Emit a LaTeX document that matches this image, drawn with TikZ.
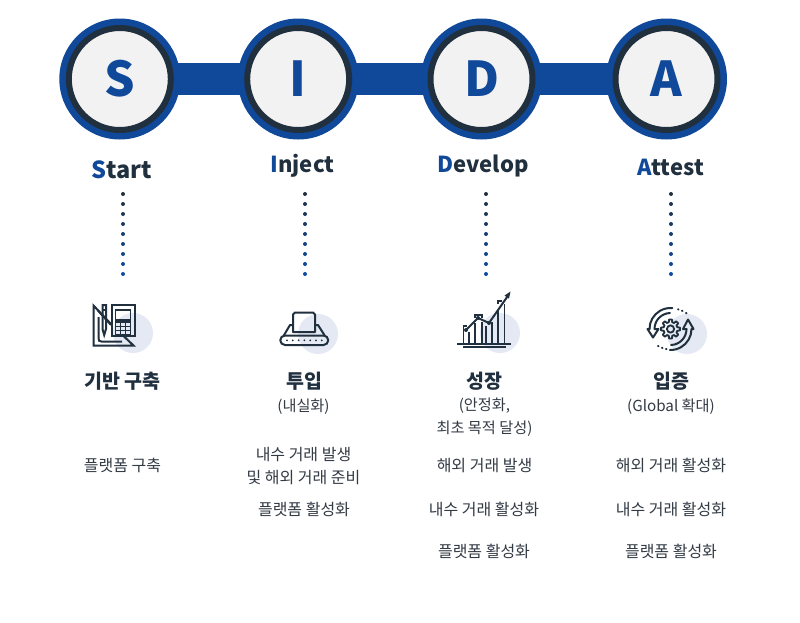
\documentclass[tikz,border=0pt]{standalone}
\usepackage{fontspec}
\setmainfont{Noto Sans CJK KR}
\definecolor{navy}{HTML}{10489A}
\definecolor{ink}{HTML}{21303F}
\definecolor{disc}{HTML}{E4E9F3}
\definecolor{txt}{HTML}{333B45}
\tikzset{
  badge/.style={circle,draw=ink,line width=6pt,fill=black!5,minimum size=102pt,inner sep=0pt,text=navy,font=\fontsize{48}{48}\selectfont\bfseries},
  halo/.style={circle,fill=navy,minimum size=121pt,inner sep=0pt},
  bridge/.style={draw=navy,line width=32pt},
  word/.style={inner sep=0pt,text=ink,font=\fontsize{22}{22}\selectfont\bfseries},
  head/.style={inner sep=0pt,text=ink,font=\fontsize{19.5}{19.5}\selectfont\bfseries},
  sub/.style={inner sep=0pt,text=txt,align=center,font=\fontsize{15.2}{22}\selectfont},
  item/.style={inner sep=0pt,text=txt,align=center,font=\fontsize{16}{23}\selectfont},
  ic/.style={draw=ink,line width=2pt,line join=miter},
  icr/.style={draw=ink,line width=2pt,line join=round,line cap=round},
  backdisc/.style={fill=disc},
}
\begin{document}
\begin{tikzpicture}[x=1pt,y=-1pt]
\useasboundingbox (0,0) rectangle (800,622);
\fill[white] (0,0) rectangle (800,622);
% halos and bridges
\node[halo] (hs) at (119.8,79) {};
\node[halo] (hi) at (298.2,79) {};
\node[halo] (hd) at (481.5,79) {};
\node[halo] (ha) at (666.5,79) {};
\draw[bridge] (hs.center) -- (hi.center);
\draw[bridge] (hi.center) -- (hd.center);
\draw[bridge] (hd.center) -- (ha.center);
\node[badge] (bs) at (119.8,79) {S};
\node[badge] (bi) at (298.2,79) {I};
\node[badge] (bd) at (481.5,79) {D};
\node[badge] (ba) at (666.5,79) {A};
% words
\node[word,font=\fontsize{23.5}{23.5}\selectfont\bfseries] (ws) at (122,169.5) {\textcolor{navy}{S}tart};
\node[word] (wi) at (302.5,166) {\textcolor{navy}{I}nject};
\node[word] (wd) at (483,166) {\textcolor{navy}{D}evelop};
\node[word] (wa) at (670.5,167.5) {\textcolor{navy}{A}ttest};
% dotted columns
\foreach \x in {123,305,486,671}{
  \foreach \k [evaluate=\k as \m using {\k*14}] in {0,...,8}{
    \fill[navy!\m!ink] (\x,194+\k*10) circle (2);
  }
}
% icon 1
\fill[backdisc] (133,333) circle (20);
\draw[ic] (111,324) -- (93.5,305.5) -- (93.5,345.5) -- (133.5,345.5) -- (123.5,336);
\draw[ic] (98.5,317) -- (98.5,338) .. controls (98.5,341) and (99.5,341.5) .. (101.5,341.5) -- (122,341.5);
\draw[ic] (97.5,310) -- (111,325);
\draw[ic] (112,305) rectangle (134.5,336);
\draw[ic,line width=1.6pt] (115.5,310) rectangle (130.5,320);
\draw[ic,line width=1.6pt] (115.5,322) rectangle (130.5,335) (120.5,322) -- (120.5,335) (125.5,322) -- (125.5,335) (115.5,326.3) -- (130.5,326.3) (115.5,330.6) -- (130.5,330.6);
\draw[ic] (102.5,305) -- (106,305) -- (106,329) -- (104.2,335) -- (102.5,329) -- cycle;
\draw[ic] (102.5,309.5) -- (106,309.5);
% icon 2
\fill[backdisc] (318,334) circle (20);
\draw[icr] (292,325) -- (290,325) -- (283.5,336);
\draw[icr] (316,325) -- (318,325) -- (325,336);
\draw[icr] (285,335.5) -- (323.5,335.5) arc (-90:90:4.75) -- (285,345) arc (90:270:4.75);
\draw[icr] (293,332) -- (293,314.5) -- (295,312.5) -- (313,312.5) -- (315,314.5) -- (315,332) -- cycle;
\foreach \k in {0,...,6} \fill[ink] ({287+\k*5.8},340.3) circle (1);
% icon 3
\fill[backdisc] (500,333) circle (20);
\draw[ic] (457,343.5) -- (511,343.5);
\draw[ic] (463,347) -- (505.5,347);
\draw[ic,line width=1.8pt] (469,343) -- (469,332) (463.5,343) -- (463.5,326) -- (467,326);
\draw[ic,line width=1.8pt] (475,343) -- (475,323) (475,318) -- (475,315) -- (482,315) -- (482,318) (482,322) -- (482,343);
\draw[ic,line width=1.8pt] (486,343) -- (486,326) (492,343) -- (492,322);
\draw[ic,line width=1.8pt] (498,343) -- (498,310) (504.5,343) -- (504.5,304) (498,303.5) -- (498,301) -- (501.5,301);
\draw[ic] (466,330) -- (478,318) -- (489,323) -- (508.5,295);
\fill[ink] (510.5,291.5) -- (504.5,295.5) -- (509,298.5) -- cycle;
\fill[ink] (466,330) circle (2) (478,318) circle (2) (489,323) circle (2);
% icon 4
\fill[backdisc] (687,334) circle (20);
\coordinate (gc) at (670.5,329);
\draw[icr] (gc) ++(180:21) arc (180:275:21);
\draw[icr] (gc) ++(180:16) arc (180:268:16);
\draw[icr] (gc) ++(0:21) arc (0:92:21);
\draw[icr] (gc) ++(0:16) arc (0:88:16);
\draw[icr] (649.5,329) -- (647.5,329) -- (653,337.5) -- (658.5,329) -- (654.5,329);
\draw[icr] (691.5,329) -- (693.5,329) -- (688,319.5) -- (683,329) -- (686.5,329);
\draw[icr] (678,309.3) -- (678.5,309.5) (682,310.7) -- (682.5,311) (686,313) -- (686.5,313.3);
\draw[icr] (658,346) -- (658.5,346.3) (662,347.8) -- (662.5,348) (666,349) -- (666.5,349.1);
\draw[ic,line width=1.8pt] (gc) circle (3.6);
\draw[icr,line width=1.8pt] ({670.5+7*cos(-14)},{329+7*sin(-14)})
  \foreach \a in {0,45,...,315}{
    -- ({670.5+7*cos(\a-14)},{329+7*sin(\a-14)})
    -- ({670.5+9.6*cos(\a-9)},{329+9.6*sin(\a-9)})
    -- ({670.5+9.6*cos(\a+9)},{329+9.6*sin(\a+9)})
    -- ({670.5+7*cos(\a+14)},{329+7*sin(\a+14)})
  } -- cycle;
% heads
\node[head] (h1) at (122.5,381) {기반 구축};
\node[head] (h2) at (304.5,381) {투입};
\node[head] (h3) at (484.8,381) {성장};
\node[head] (h4) at (671,381) {입증};
\node[sub] (s2) at (303.5,406.5) {(내실화)};
\node[sub,font=\fontsize{15.2}{23}\selectfont] (s3) at (484.5,417) {(안정화,\\최초 목적 달성)};
\node[sub] (s4) at (671,406.5) {(Global 확대)};
% items
\node[item] (a1) at (122.5,465.5) {플랫폼 구축};
\node[item] (a2) at (303.5,466) {내수 거래 발생\\및 해외 거래 준비};
\node[item] (a3) at (304,509.5) {플랫폼 활성화};
\node[item] (a4) at (484.5,465.5) {해외 거래 발생};
\node[item] (a5) at (484,509.5) {내수 거래 활성화};
\node[item] (a6) at (484,551.5) {플랫폼 활성화};
\node[item] (a7) at (671,465.5) {해외 거래 활성화};
\node[item] (a8) at (671,509.5) {내수 거래 활성화};
\node[item] (a9) at (671,551.5) {플랫폼 활성화};
\end{tikzpicture}
\end{document}
